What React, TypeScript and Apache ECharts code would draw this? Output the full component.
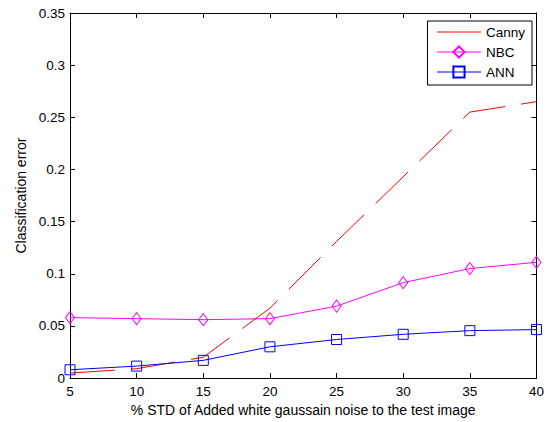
import React, { useEffect, useRef } from "react";
import * as echarts from "echarts";

const noiseLevels = [5, 10, 15, 20, 25, 30, 35, 40];
const cannyError = [0.0048, 0.009, 0.02, 0.067, 0.131, 0.193, 0.255, 0.265];
const nbcError = [0.058, 0.057, 0.056, 0.057, 0.069, 0.0915, 0.105, 0.111];
const annError = [0.008, 0.0115, 0.017, 0.03, 0.037, 0.042, 0.0455, 0.0465];
const seriesNames = ["Canny", "NBC", "ANN"];
const xTitle = "% STD of Added white gaussain noise to the test image";
const yTitle = "Classification error";

const FONT = "Liberation Sans, Arial, sans-serif";
const FS = 13.5;
const FS_TITLE = 14;

export default function App() {
  const ref = useRef<HTMLDivElement>(null);
  useEffect(() => {
    if (!ref.current) return;
    const chart = echarts.init(ref.current, undefined, { renderer: "svg" });
    const pairs = (ys: number[]) => noiseLevels.map((x, i) => [x, ys[i]]);
    const axisCommon = {
      axisLine: { show: true, onZero: false, lineStyle: { color: "#000", width: 1 } },
      axisTick: { show: true, inside: true, length: 5, lineStyle: { color: "#000" } },
      splitLine: { show: false },
    };
    const xBase = { type: "value", min: 5, max: 40, interval: 5, ...axisCommon };
    const yBase = { type: "value", min: 0, max: 0.35, interval: 0.05, ...axisCommon };
    chart.setOption({
      animation: false,
      backgroundColor: "#fff",
      textStyle: { fontFamily: FONT },
      grid: { left: 70, right: 10, top: 13, bottom: 42, containLabel: false },
      xAxis: [
        {
          ...xBase,
          position: "bottom",
          name: xTitle,
          nameLocation: "middle",
          nameGap: 22,
          nameTextStyle: { color: "#000", fontSize: FS_TITLE, fontFamily: FONT },
          axisLabel: { color: "#000", fontSize: FS, fontFamily: FONT, margin: 6 },
        },
        { ...xBase, position: "top", axisLabel: { show: false } },
      ],
      yAxis: [
        {
          ...yBase,
          position: "left",
          name: yTitle,
          nameLocation: "middle",
          nameGap: 38,
          nameTextStyle: { color: "#000", fontSize: FS_TITLE, fontFamily: FONT },
          axisLabel: {
            color: "#000",
            fontSize: FS,
            fontFamily: FONT,
            margin: 5,
            formatter: (v: number) => String(+v.toFixed(2)),
          },
        },
        { ...yBase, position: "right", axisLabel: { show: false } },
      ],
      legend: {
        orient: "vertical",
        right: 15,
        top: 21,
        padding: [4, 7, 6, 9],
        itemWidth: 44,
        itemHeight: 14,
        itemGap: 6,
        backgroundColor: "#fff",
        borderColor: "#000",
        borderWidth: 1,
        borderRadius: 0,
        textStyle: { color: "#000", fontSize: FS, fontFamily: FONT },
        data: [
          {
            name: seriesNames[0],
            itemStyle: { color: "transparent", borderColor: "transparent", borderWidth: 0, opacity: 0 },
            lineStyle: { type: "solid", color: "#ff0000", width: 1, opacity: 1 },
          },
          { name: seriesNames[1], lineStyle: { width: 1 } },
          { name: seriesNames[2], lineStyle: { width: 1 } },
        ],
      },
      series: [
        {
          name: seriesNames[0],
          type: "line",
          data: pairs(cannyError),
          symbol: "none",
          itemStyle: { color: "#ff0000" },
          lineStyle: { color: "#ff0000", width: 1, type: [45, 16] },
          z: 3,
        },
        {
          name: seriesNames[1],
          type: "line",
          data: pairs(nbcError),
          symbol: "diamond",
          symbolSize: [9, 12],
          itemStyle: { color: "transparent", borderColor: "#ff00ff", borderWidth: 1 },
          lineStyle: { color: "#ff00ff", width: 1 },
          z: 2,
        },
        {
          name: seriesNames[2],
          type: "line",
          data: pairs(annError),
          symbol: "rect",
          symbolSize: 10,
          itemStyle: { color: "transparent", borderColor: "#0000ff", borderWidth: 1 },
          lineStyle: { color: "#0000ff", width: 1 },
          z: 4,
        },
      ],
    });
    return () => chart.dispose();
  }, []);
  return (
    <div
      ref={ref}
      style={{ position: "fixed", left: 0, top: 0, width: 547, height: 422, background: "#fff" }}
    />
  );
}
